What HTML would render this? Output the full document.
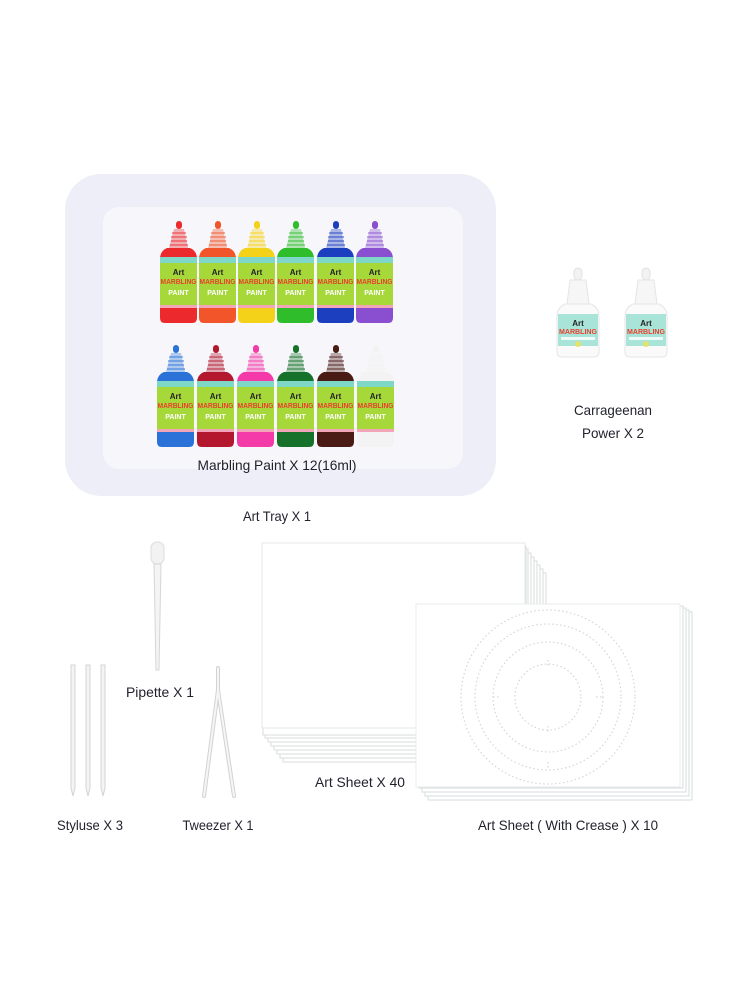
<!DOCTYPE html>
<html><head><meta charset="utf-8"><style>
html,body{margin:0;padding:0;background:#fff;}
svg{display:block;}
text{font-family:"Liberation Sans",sans-serif;fill:#22222e;}
</style></head><body>
<svg width="750" height="1000" viewBox="0 0 750 1000" xmlns="http://www.w3.org/2000/svg">
<defs>
<g id="b">
 <rect x="16" y="0" width="6" height="8" rx="3" fill="var(--c)"/>
 <path d="M14 8 L24 8 L28 27 L9 27 Z" fill="var(--c)" opacity="0.35"/>
 <path d="M12 12 H26 M11 16 H27 M11 20 H27 M10 24 H28" stroke="var(--c)" stroke-width="1.5" opacity="0.6"/>
 <path d="M7 27 H30 Q37 30 37 38 V97 Q37 102 32 102 H5 Q0 102 0 97 V38 Q0 30 7 27 Z" fill="var(--c)"/>
 <rect x="0" y="36" width="37" height="6" fill="#7fd7c8"/>
 <rect x="0" y="42" width="37" height="45" fill="#a6d83a"/>
 <rect x="0" y="84" width="37" height="3" fill="#f2a6b8"/>
 <text x="18.5" y="54" font-size="8" font-weight="bold" text-anchor="middle" style="fill:#222">Art</text>
 <text x="18.5" y="63" font-size="7" font-weight="bold" text-anchor="middle" style="fill:#e8402c" textLength="36" lengthAdjust="spacingAndGlyphs">MARBLING</text>
 <text x="18.5" y="74" font-size="7" font-weight="bold" text-anchor="middle" style="fill:#fff">PAINT</text>
</g>
<g id="cb">
 <rect x="17" y="0" width="8" height="12" rx="4" fill="#f2f2f2" stroke="#e2e2e2"/>
 <path d="M13 12 H29 L32 36 H10 Z" fill="#f6f6f6" stroke="#e4e4e4"/>
 <path d="M8 36 H34 Q42 40 42 48 V84 Q42 89 37 89 H5 Q0 89 0 84 V48 Q0 40 8 36 Z" fill="#fafafa" stroke="#e6e6e6"/>
 <rect x="1" y="46" width="40" height="32" fill="#a9e4d8"/>
 <text x="21" y="58" font-size="8" font-weight="bold" text-anchor="middle" style="fill:#222">Art</text>
 <text x="21" y="66" font-size="7" font-weight="bold" text-anchor="middle" style="fill:#e8402c" textLength="38" lengthAdjust="spacingAndGlyphs">MARBLING</text>
 <rect x="4" y="69" width="34" height="3" fill="#fff" opacity="0.8"/>
 <circle cx="21" cy="76" r="3" fill="#e4e36a"/>
</g>
</defs>

<rect x="65" y="174" width="431" height="322" rx="36" fill="#eeeef8"/>
<rect x="103" y="207" width="360" height="262" rx="16" fill="#f6f6fb"/>

<use href="#b" x="160" y="221" style="--c:#ec2a2e"/>
<use href="#b" x="199" y="221" style="--c:#f2552a"/>
<use href="#b" x="238" y="221" style="--c:#f5d21a"/>
<use href="#b" x="277" y="221" style="--c:#2fbd2c"/>
<use href="#b" x="317" y="221" style="--c:#1c3fbf"/>
<use href="#b" x="356" y="221" style="--c:#8a4fd0"/>
<use href="#b" x="157" y="345" style="--c:#2a72d8"/>
<use href="#b" x="197" y="345" style="--c:#b3182f"/>
<use href="#b" x="237" y="345" style="--c:#f43aa8"/>
<use href="#b" x="277" y="345" style="--c:#16722a"/>
<use href="#b" x="317" y="345" style="--c:#4a1a14"/>
<use href="#b" x="357" y="345" style="--c:#f3f3f3"/>

<text x="277" y="470" font-size="14" text-anchor="middle" textLength="159" lengthAdjust="spacingAndGlyphs">Marbling Paint X 12(16ml)</text>
<text x="277" y="521" font-size="14" text-anchor="middle" textLength="68" lengthAdjust="spacingAndGlyphs">Art Tray X 1</text>

<use href="#cb" x="557" y="268"/>
<use href="#cb" x="625" y="268"/>
<text x="613" y="415" font-size="14" text-anchor="middle" textLength="78" lengthAdjust="spacingAndGlyphs">Carrageenan</text>
<text x="613" y="438" font-size="14" text-anchor="middle" textLength="62" lengthAdjust="spacingAndGlyphs">Power X 2</text>

<rect x="151" y="542" width="13" height="22" rx="6" fill="#f2f2f2" stroke="#dcdcdc"/>
<path d="M154 564 L161 564 L159 670 L156 670 Z" fill="#f4f4f4" stroke="#d6d6d6"/>
<text x="160" y="697" font-size="14" text-anchor="middle" textLength="68" lengthAdjust="spacingAndGlyphs">Pipette X 1</text>

<g fill="#f4f4f4" stroke="#d4d4d4" stroke-width="1">
<path d="M71 665 H75 V788 L73 796 L71 788 Z"/>
<path d="M86 665 H90 V788 L88 796 L86 788 Z"/>
<path d="M101 665 H105 V788 L103 796 L101 788 Z"/>
</g>
<text x="90" y="830" font-size="14" text-anchor="middle" textLength="66" lengthAdjust="spacingAndGlyphs">Styluse X 3</text>

<g fill="none" stroke="#d2d2d2" stroke-width="4" stroke-linecap="round">
<path d="M218 668 V690 L204 796 M218 690 L234 796"/>
</g>
<g fill="none" stroke="#f6f6f6" stroke-width="2" stroke-linecap="round">
<path d="M218 668 V690 L204 796 M218 690 L234 796"/>
</g>
<text x="218" y="830" font-size="14" text-anchor="middle" textLength="71" lengthAdjust="spacingAndGlyphs">Tweezer X 1</text>

<g fill="#fff" stroke="#d9dede" stroke-width="1">
<rect x="283" y="573" width="263" height="189"/>
<rect x="280" y="569" width="263" height="189"/>
<rect x="277" y="565" width="263" height="189"/>
<rect x="274" y="561" width="263" height="189"/>
<rect x="271" y="557" width="263" height="189"/>
<rect x="268" y="553" width="263" height="189"/>
<rect x="265" y="549" width="263" height="189"/>
<rect x="263" y="546" width="263" height="189"/>
<rect x="262" y="543" width="263" height="185" stroke="#e6eaea"/>
</g>
<text x="360" y="787" font-size="14" text-anchor="middle" textLength="90" lengthAdjust="spacingAndGlyphs">Art Sheet X 40</text>

<g fill="#fff" stroke="#d5dcdc" stroke-width="1">
<rect x="428" y="612" width="264" height="188"/>
<rect x="425" y="610" width="264" height="186"/>
<rect x="422" y="608" width="264" height="184"/>
<rect x="419" y="606" width="264" height="182"/>
<rect x="416" y="604" width="264" height="183" stroke="#e8ecec"/>
</g>
<g fill="none" stroke="#d6d6d6" stroke-width="1.2" stroke-dasharray="1.5 2.5">
<circle cx="548" cy="697" r="87"/>
<circle cx="548" cy="697" r="73"/>
<circle cx="548" cy="697" r="55"/>
<circle cx="548" cy="697" r="33"/>
<path d="M548 660 V668 M548 726 V734 M493 697 H500 M596 697 H603 M548 762 V770"/>
</g>
<text x="568" y="830" font-size="14" text-anchor="middle" textLength="180" lengthAdjust="spacingAndGlyphs">Art Sheet ( With Crease ) X 10</text>
</svg>
</body></html>
